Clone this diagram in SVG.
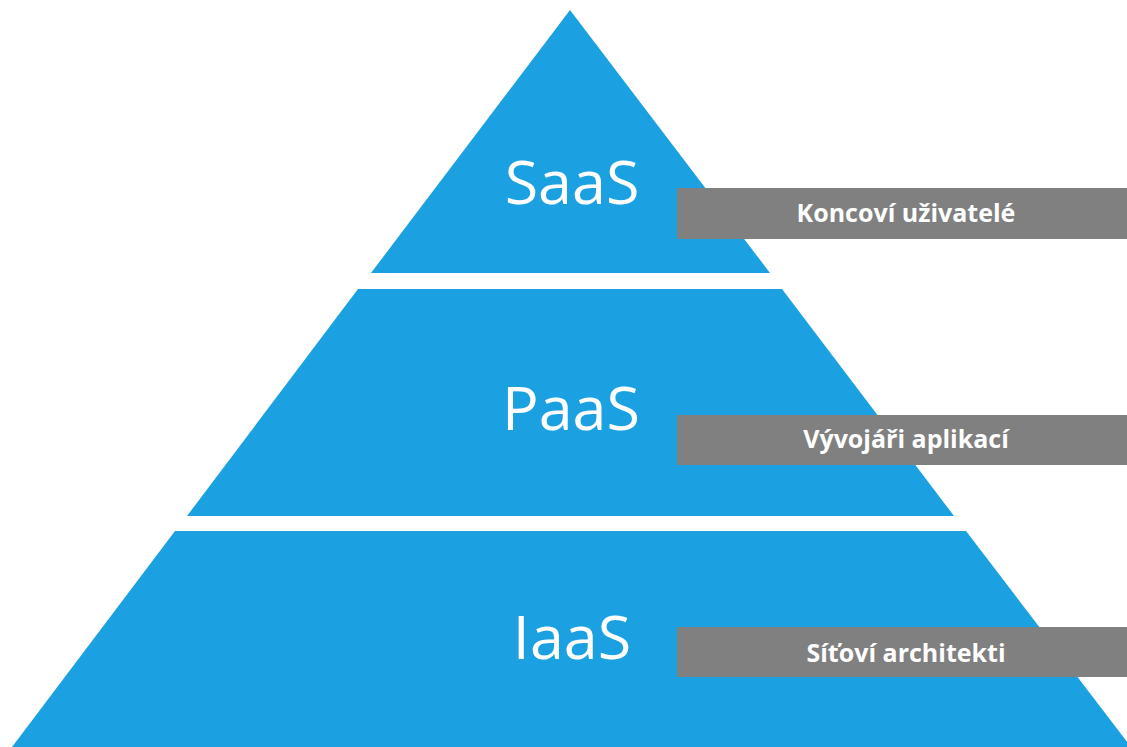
<svg xmlns="http://www.w3.org/2000/svg" width="1127" height="747" viewBox="0 0 1127 747">
  <style>
    .tier { fill: #1ba1e2; }
    .tier-label { font-family: "Open Sans", "Noto Sans", sans-serif; font-size: 61px; fill: #ffffff; text-anchor: middle; }
    .role-box { fill: #808080; }
    .role-label { font-family: "Open Sans", "Noto Sans", sans-serif; font-size: 25px; font-weight: bold; fill: #ffffff; text-anchor: middle; }
  </style>
  <rect width="1127" height="747" fill="#ffffff"/>

  <!-- Top tier -->
  <g id="saas">
    <polygon class="tier" points="570,10 770,273 371,273"/>
    <text class="tier-label" x="572" y="204">SaaS</text>
  </g>

  <!-- Middle tier -->
  <g id="paas">
    <polygon class="tier" points="358,289 782,289 954,516 187,516"/>
    <text class="tier-label" x="571" y="430">PaaS</text>
  </g>

  <!-- Bottom tier -->
  <g id="iaas">
    <polygon class="tier" points="175,531 966,531 1131,747 12,747"/>
    <text class="tier-label" x="572" y="659">IaaS</text>
  </g>

  <!-- Audience tags -->
  <g id="role-end-users">
    <rect class="role-box" x="677" y="188" width="450" height="51"/>
    <text class="role-label" x="906" y="222">Koncoví uživatelé</text>
  </g>
  <g id="role-developers">
    <rect class="role-box" x="677" y="415" width="450" height="50"/>
    <text class="role-label" x="906" y="448">Vývojáři aplikací</text>
  </g>
  <g id="role-network-architects">
    <rect class="role-box" x="677" y="627" width="450" height="50"/>
    <text class="role-label" x="906" y="662">Síťoví architekti</text>
  </g>

  <g id="connectors"/>
</svg>
